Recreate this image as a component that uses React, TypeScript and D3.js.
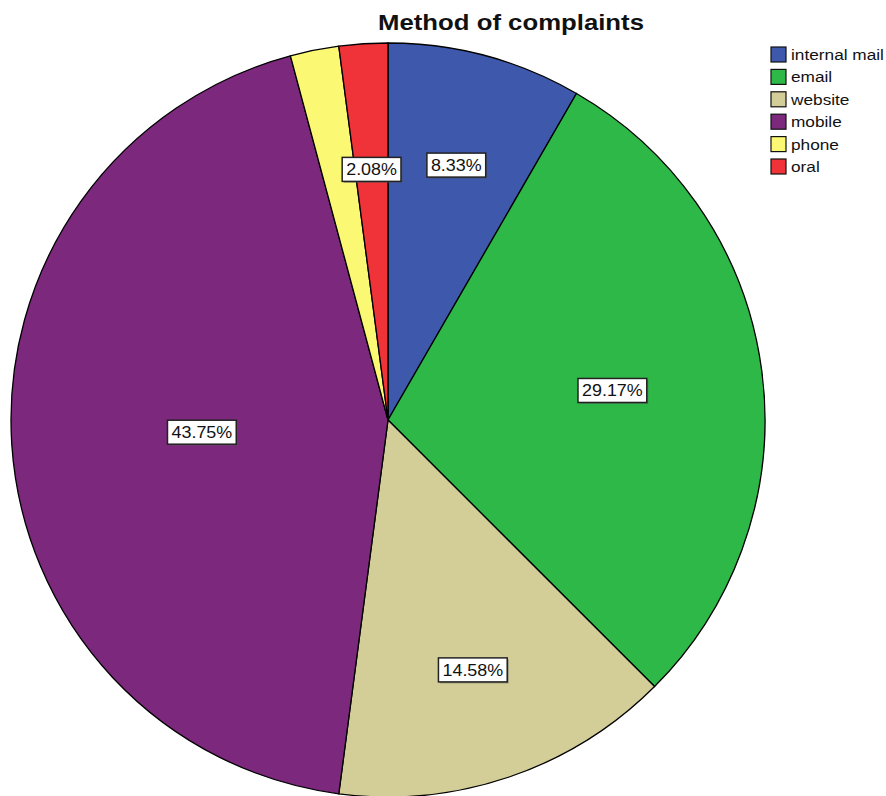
import React from "react";
import * as d3 from "d3";

const categories = ["internal mail", "email", "website", "mobile", "phone", "oral"];
const counts = [4, 14, 7, 21, 1, 1];
const colors = ["#3E58AC", "#2EB848", "#D3CE97", "#7C287D", "#FBF873", "#EF3338"];
const labelledSlices = [true, true, true, true, false, true];
const title = "Method of complaints";

const W = 886;
const H = 796;
const cx = 388;
const cy = 420;
const R = 377;
const SX = 1.12;
const FS = 16;

export default function App() {
  const total = d3.sum(counts);
  const pie = d3.pie<number>().sort(null).value((d) => d);
  const arcs = pie(counts);
  const arcGen = d3.arc<d3.PieArcDatum<number>>().innerRadius(0).outerRadius(R);
  const fmt = (v: number) => ((v / total) * 100).toFixed(2) + "%";

  return (
    <svg
      width={W}
      height={H}
      style={{ position: "absolute", left: 0, top: 0, background: "#fff" }}
      fontFamily="'Liberation Sans', Arial, sans-serif"
    >
      <g transform={`translate(${cx},${cy})`}>
        {arcs.map((a, i) => (
          <path key={i} d={arcGen(a) || ""} fill={colors[i]} stroke="#000" strokeWidth={1.3} />
        ))}
        {arcs.map((a, i) => {
          if (!labelledSlices[i]) return null;
          const half = (a.endAngle - a.startAngle) / 2;
          const mid = (a.startAngle + a.endAngle) / 2;
          const share = a.value / total;
          const centroid = (2 * R * Math.sin(half)) / (3 * half);
          const rc = share < 0.05 ? centroid : share < 0.2 ? 0.7 * R : centroid * 1.04;
          const x = rc * Math.sin(mid);
          const y = -rc * Math.cos(mid);
          const txt = fmt(a.value);
          const em = (txt.length - 2) * 0.556 + 0.278 + 0.889;
          const tw = em * FS * SX;
          const bw = tw + 8;
          const bh = 24;
          return (
            <g key={"l" + i} transform={`translate(${x},${y})`}>
              <rect x={-bw / 2 + 1.5} y={-bh / 2 + 1.5} width={bw} height={bh} fill="#555" opacity={0.5} />
              <rect x={-bw / 2} y={-bh / 2} width={bw} height={bh} fill="#fff" stroke="#222" strokeWidth={1.5} />
              <text
                transform={`translate(0,6) scale(${SX},1)`}
                textAnchor="middle"
                fontSize={FS}
                fill="#111"
              >
                {txt}
              </text>
            </g>
          );
        })}
      </g>
      <text
        transform={`translate(511,30) scale(1.17,1)`}
        textAnchor="middle"
        fontSize={22}
        fontWeight="bold"
        fill="#111"
      >
        {title}
      </text>
      <g transform="translate(771,47)">
        {categories.map((c, i) => (
          <g key={c} transform={`translate(0,${i * 22.4})`}>
            <rect x={0} y={0} width={15} height={15} fill={colors[i]} stroke="#111" strokeWidth={1.2} />
            <text transform={`translate(20,13) scale(1.15,1)`} fontSize={15} fill="#111">
              {c}
            </text>
          </g>
        ))}
      </g>
    </svg>
  );
}
